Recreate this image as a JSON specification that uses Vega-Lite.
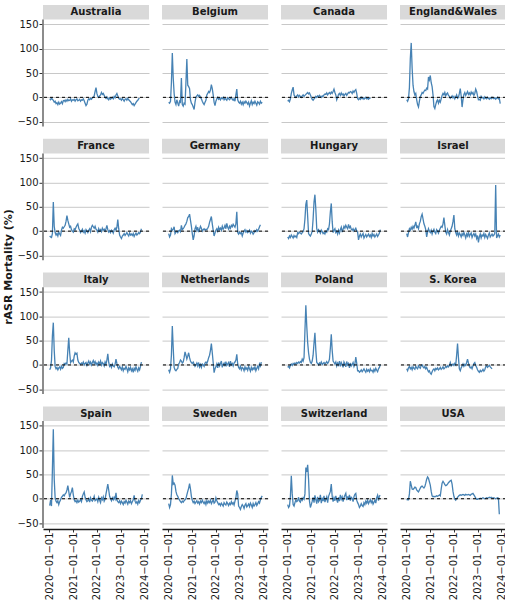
{
  "$schema": "https://vega.github.io/schema/vega-lite/v6.json",
  "background": "white",
  "padding": {"left": 2, "top": 5, "right": 0, "bottom": 0},
  "data": {
    "format": {"parse": {"d": "utc:'%Y-%m-%d'"}},
    "values": [
      {"d":"2020-01-05","Australia":-3,"Belgium":-10,"Canada":-8,"England&Wales":-5,"France":-10,"Germany":-5,"Hungary":-12,"Israel":-5,"Italy":-10,"Netherlands":-10,"Poland":-5,"S. Korea":-8,"Spain":-14,"Sweden":-10,"Switzerland":-12,"USA":-3},
      {"d":"2020-01-19","Australia":-5,"Belgium":-12,"Canada":-6,"England&Wales":-8,"France":-12,"Germany":-12,"Hungary":-15,"Israel":-12,"Italy":-6,"Netherlands":-15,"Poland":-3,"S. Korea":-12,"Spain":-3,"Sweden":-18,"Switzerland":-18,"USA":-1},
      {"d":"2020-02-02","Australia":-2,"Belgium":-8,"Canada":-9,"England&Wales":-3,"France":-13,"Germany":-8,"Hungary":-10,"Israel":-3,"Italy":10,"Netherlands":-8,"Poland":-6,"S. Korea":-6,"Spain":-15,"Sweden":-12,"Switzerland":-15,"USA":-2},
      {"d":"2020-02-16","Australia":-4,"Belgium":30,"Canada":-3,"England&Wales":20,"France":-5,"Germany":5,"Hungary":-13,"Israel":5,"Italy":60,"Netherlands":20,"Poland":0,"S. Korea":-3,"Spain":60,"Sweden":10,"Switzerland":5,"USA":10},
      {"d":"2020-03-01","Australia":-6,"Belgium":91,"Canada":8,"England&Wales":80,"France":60,"Germany":2,"Hungary":-8,"Israel":2,"Italy":87,"Netherlands":80,"Poland":2,"S. Korea":-8,"Spain":143,"Sweden":48,"Switzerland":47,"USA":36},
      {"d":"2020-03-15","Australia":-10,"Belgium":40,"Canada":15,"England&Wales":112,"France":10,"Germany":4,"Hungary":-11,"Israel":8,"Italy":30,"Netherlands":35,"Poland":-1,"S. Korea":-5,"Spain":40,"Sweden":30,"Switzerland":10,"USA":28},
      {"d":"2020-03-29","Australia":-8,"Belgium":8,"Canada":21,"England&Wales":60,"France":-3,"Germany":9,"Hungary":-14,"Israel":4,"Italy":-3,"Netherlands":-5,"Poland":3,"S. Korea":-10,"Spain":2,"Sweden":32,"Switzerland":-12,"USA":20},
      {"d":"2020-04-12","Australia":-13,"Belgium":-10,"Canada":5,"England&Wales":25,"France":-8,"Germany":-5,"Hungary":-9,"Israel":10,"Italy":-8,"Netherlands":-10,"Poland":1,"S. Korea":-4,"Spain":-5,"Sweden":28,"Switzerland":-15,"USA":19},
      {"d":"2020-04-26","Australia":-11,"Belgium":-15,"Canada":2,"England&Wales":12,"France":-5,"Germany":-2,"Hungary":-12,"Israel":6,"Italy":-5,"Netherlands":-12,"Poland":4,"S. Korea":-7,"Spain":-8,"Sweden":15,"Switzerland":-8,"USA":21},
      {"d":"2020-05-10","Australia":-15,"Belgium":-5,"Canada":0,"England&Wales":5,"France":-10,"Germany":0,"Hungary":-10,"Israel":12,"Italy":-10,"Netherlands":-9,"Poland":2,"S. Korea":-9,"Spain":-4,"Sweden":8,"Switzerland":-2,"USA":24},
      {"d":"2020-05-24","Australia":-10,"Belgium":-12,"Canada":3,"England&Wales":8,"France":-2,"Germany":-3,"Hungary":-13,"Israel":19,"Italy":-6,"Netherlands":-7,"Poland":5,"S. Korea":-3,"Spain":-12,"Sweden":5,"Switzerland":-6,"USA":23},
      {"d":"2020-06-07","Australia":-14,"Belgium":-18,"Canada":5,"England&Wales":-5,"France":-6,"Germany":1,"Hungary":-3,"Israel":8,"Italy":-4,"Netherlands":2,"Poland":3,"S. Korea":-6,"Spain":-6,"Sweden":0,"Switzerland":-4,"USA":18},
      {"d":"2020-06-21","Australia":-12,"Belgium":-8,"Canada":1,"England&Wales":-15,"France":-9,"Germany":2,"Hungary":-5,"Israel":10,"Italy":-9,"Netherlands":5,"Poland":6,"S. Korea":-8,"Spain":-2,"Sweden":-3,"Switzerland":3,"USA":16},
      {"d":"2020-07-05","Australia":-9,"Belgium":-10,"Canada":4,"England&Wales":-20,"France":2,"Germany":-1,"Hungary":-2,"Israel":5,"Italy":-3,"Netherlands":10,"Poland":4,"S. Korea":-2,"Spain":3,"Sweden":-6,"Switzerland":-5,"USA":14},
      {"d":"2020-07-19","Australia":-13,"Belgium":40,"Canada":2,"England&Wales":-8,"France":8,"Germany":12,"Hungary":-4,"Israel":15,"Italy":-7,"Netherlands":8,"Poland":7,"S. Korea":-5,"Spain":5,"Sweden":-8,"Switzerland":-7,"USA":18},
      {"d":"2020-08-02","Australia":-7,"Belgium":-15,"Canada":0,"England&Wales":2,"France":6,"Germany":3,"Hungary":-6,"Israel":20,"Italy":-5,"Netherlands":4,"Poland":5,"S. Korea":-7,"Spain":8,"Sweden":-5,"Switzerland":0,"USA":22},
      {"d":"2020-08-16","Australia":-6,"Belgium":-18,"Canada":3,"England&Wales":5,"France":9,"Germany":5,"Hungary":-3,"Israel":30,"Italy":3,"Netherlands":6,"Poland":12,"S. Korea":-1,"Spain":6,"Sweden":-7,"Switzerland":-3,"USA":25},
      {"d":"2020-08-30","Australia":-9,"Belgium":-12,"Canada":5,"England&Wales":10,"France":12,"Germany":8,"Hungary":-1,"Israel":35,"Italy":1,"Netherlands":15,"Poland":8,"S. Korea":0,"Spain":10,"Sweden":-4,"Switzerland":2,"USA":26},
      {"d":"2020-09-13","Australia":-5,"Belgium":-14,"Canada":2,"England&Wales":8,"France":20,"Germany":12,"Hungary":5,"Israel":25,"Italy":4,"Netherlands":27,"Poland":15,"S. Korea":-4,"Spain":12,"Sweden":-2,"Switzerland":-1,"USA":24},
      {"d":"2020-09-27","Australia":-8,"Belgium":30,"Canada":4,"England&Wales":12,"France":32,"Germany":15,"Hungary":25,"Israel":15,"Italy":2,"Netherlands":20,"Poland":70,"S. Korea":-6,"Spain":18,"Sweden":0,"Switzerland":10,"USA":22},
      {"d":"2020-10-11","Australia":-4,"Belgium":79,"Canada":6,"England&Wales":15,"France":22,"Germany":20,"Hungary":55,"Israel":10,"Italy":30,"Netherlands":12,"Poland":123,"S. Korea":-3,"Spain":27,"Sweden":8,"Switzerland":64,"USA":25},
      {"d":"2020-10-25","Australia":-7,"Belgium":25,"Canada":8,"England&Wales":14,"France":15,"Germany":28,"Hungary":64,"Israel":3,"Italy":56,"Netherlands":18,"Poland":80,"S. Korea":-8,"Spain":15,"Sweden":15,"Switzerland":55,"USA":32},
      {"d":"2020-11-08","Australia":-6,"Belgium":22,"Canada":10,"England&Wales":19,"France":8,"Germany":30,"Hungary":30,"Israel":-12,"Italy":25,"Netherlands":25,"Poland":46,"S. Korea":-5,"Spain":3,"Sweden":22,"Switzerland":70,"USA":40},
      {"d":"2020-11-22","Australia":-3,"Belgium":18,"Canada":7,"England&Wales":17,"France":10,"Germany":35,"Hungary":-5,"Israel":-2,"Italy":5,"Netherlands":15,"Poland":25,"S. Korea":-10,"Spain":10,"Sweden":31,"Switzerland":40,"USA":45},
      {"d":"2020-12-06","Australia":-8,"Belgium":-5,"Canada":9,"England&Wales":42,"France":3,"Germany":22,"Hungary":-8,"Israel":5,"Italy":8,"Netherlands":8,"Poland":12,"S. Korea":-14,"Spain":15,"Sweden":20,"Switzerland":-5,"USA":42},
      {"d":"2020-12-20","Australia":-5,"Belgium":-12,"Canada":5,"England&Wales":36,"France":0,"Germany":10,"Hungary":-10,"Israel":0,"Italy":10,"Netherlands":5,"Poland":5,"S. Korea":-12,"Spain":23,"Sweden":5,"Switzerland":-18,"USA":35},
      {"d":"2021-01-03","Australia":-6,"Belgium":-15,"Canada":0,"England&Wales":45,"France":-2,"Germany":-5,"Hungary":-6,"Israel":-3,"Italy":6,"Netherlands":3,"Poland":3,"S. Korea":-17,"Spain":8,"Sweden":-3,"Switzerland":-12,"USA":28},
      {"d":"2021-01-17","Australia":-4,"Belgium":-20,"Canada":-4,"England&Wales":30,"France":5,"Germany":-18,"Hungary":0,"Israel":2,"Italy":18,"Netherlands":6,"Poland":8,"S. Korea":-19,"Spain":-2,"Sweden":-8,"Switzerland":-5,"USA":15},
      {"d":"2021-01-31","Australia":-8,"Belgium":-25,"Canada":-6,"England&Wales":22,"France":3,"Germany":-10,"Hungary":25,"Israel":-6,"Italy":25,"Netherlands":2,"Poland":20,"S. Korea":-14,"Spain":-6,"Sweden":-5,"Switzerland":3,"USA":6},
      {"d":"2021-02-14","Australia":-5,"Belgium":-10,"Canada":-3,"England&Wales":5,"France":8,"Germany":5,"Hungary":60,"Israel":0,"Italy":22,"Netherlands":-3,"Poland":45,"S. Korea":-10,"Spain":-4,"Sweden":-10,"Switzerland":-8,"USA":4},
      {"d":"2021-02-28","Australia":-3,"Belgium":0,"Canada":-1,"England&Wales":-19,"France":12,"Germany":10,"Hungary":75,"Israel":4,"Italy":24,"Netherlands":0,"Poland":66,"S. Korea":-8,"Spain":-8,"Sweden":-7,"Switzerland":7,"USA":5},
      {"d":"2021-03-14","Australia":-7,"Belgium":3,"Canada":2,"England&Wales":-23,"France":15,"Germany":2,"Hungary":45,"Israel":-2,"Italy":10,"Netherlands":4,"Poland":30,"S. Korea":-12,"Spain":-3,"Sweden":-4,"Switzerland":-2,"USA":4},
      {"d":"2021-03-28","Australia":-6,"Belgium":5,"Canada":0,"England&Wales":-15,"France":6,"Germany":8,"Hungary":5,"Israel":-5,"Italy":5,"Netherlands":-2,"Poland":5,"S. Korea":-7,"Spain":-7,"Sweden":-9,"Switzerland":-10,"USA":5},
      {"d":"2021-04-11","Australia":-4,"Belgium":2,"Canada":3,"England&Wales":-8,"France":2,"Germany":-2,"Hungary":-2,"Israel":3,"Italy":3,"Netherlands":5,"Poland":3,"S. Korea":-9,"Spain":-5,"Sweden":-6,"Switzerland":4,"USA":6},
      {"d":"2021-04-25","Australia":-8,"Belgium":4,"Canada":1,"England&Wales":-5,"France":-3,"Germany":4,"Hungary":3,"Israel":0,"Italy":1,"Netherlands":-4,"Poland":0,"S. Korea":-6,"Spain":-2,"Sweden":-11,"Switzerland":-6,"USA":5},
      {"d":"2021-05-09","Australia":-5,"Belgium":0,"Canada":4,"England&Wales":-12,"France":0,"Germany":10,"Hungary":0,"Israel":-4,"Italy":4,"Netherlands":1,"Poland":4,"S. Korea":-10,"Spain":-6,"Sweden":-5,"Switzerland":-3,"USA":6},
      {"d":"2021-05-23","Australia":-6,"Belgium":-3,"Canada":2,"England&Wales":-6,"France":4,"Germany":6,"Hungary":-4,"Israel":2,"Italy":2,"Netherlands":-5,"Poland":2,"S. Korea":-8,"Spain":5,"Sweden":-8,"Switzerland":8,"USA":8},
      {"d":"2021-06-06","Australia":-3,"Belgium":-8,"Canada":0,"England&Wales":-10,"France":-2,"Germany":0,"Hungary":2,"Israel":6,"Italy":6,"Netherlands":2,"Poland":6,"S. Korea":-5,"Spain":10,"Sweden":-3,"Switzerland":-9,"USA":6},
      {"d":"2021-06-20","Australia":-7,"Belgium":-12,"Canada":3,"England&Wales":-3,"France":1,"Germany":3,"Hungary":-1,"Israel":10,"Italy":0,"Netherlands":0,"Poland":1,"S. Korea":-9,"Spain":14,"Sweden":-7,"Switzerland":2,"USA":20},
      {"d":"2021-07-04","Australia":-12,"Belgium":-15,"Canada":2,"England&Wales":4,"France":-4,"Germany":5,"Hungary":-5,"Israel":8,"Italy":3,"Netherlands":-3,"Poland":3,"S. Korea":-7,"Spain":3,"Sweden":-10,"Switzerland":-5,"USA":32},
      {"d":"2021-07-18","Australia":-17,"Belgium":-10,"Canada":5,"England&Wales":8,"France":3,"Germany":2,"Hungary":-3,"Israel":15,"Italy":5,"Netherlands":4,"Poland":5,"S. Korea":-4,"Spain":-2,"Sweden":-6,"Switzerland":6,"USA":36},
      {"d":"2021-08-01","Australia":-14,"Belgium":-6,"Canada":7,"England&Wales":5,"France":0,"Germany":4,"Hungary":-6,"Israel":28,"Italy":-1,"Netherlands":6,"Poland":2,"S. Korea":-8,"Spain":-6,"Sweden":-12,"Switzerland":-7,"USA":33},
      {"d":"2021-08-15","Australia":-6,"Belgium":5,"Canada":6,"England&Wales":10,"France":-3,"Germany":3,"Hungary":0,"Israel":12,"Italy":4,"Netherlands":3,"Poland":4,"S. Korea":-6,"Spain":-4,"Sweden":-4,"Switzerland":-1,"USA":29},
      {"d":"2021-08-29","Australia":-3,"Belgium":8,"Canada":9,"England&Wales":3,"France":2,"Germany":6,"Hungary":-2,"Israel":-2,"Italy":8,"Netherlands":8,"Poland":7,"S. Korea":-3,"Spain":0,"Sweden":-9,"Switzerland":4,"USA":27},
      {"d":"2021-09-12","Australia":-5,"Belgium":12,"Canada":5,"England&Wales":7,"France":5,"Germany":10,"Hungary":5,"Israel":-6,"Italy":2,"Netherlands":15,"Poland":3,"S. Korea":-5,"Spain":-7,"Sweden":-5,"Switzerland":-8,"USA":28},
      {"d":"2021-09-26","Australia":-2,"Belgium":10,"Canada":8,"England&Wales":9,"France":-1,"Germany":18,"Hungary":3,"Israel":3,"Italy":6,"Netherlands":20,"Poland":6,"S. Korea":-2,"Spain":2,"Sweden":-8,"Switzerland":5,"USA":30},
      {"d":"2021-10-10","Australia":-4,"Belgium":15,"Canada":10,"England&Wales":4,"France":8,"Germany":24,"Hungary":15,"Israel":-3,"Italy":0,"Netherlands":30,"Poland":12,"S. Korea":-4,"Spain":-3,"Sweden":-3,"Switzerland":10,"USA":33},
      {"d":"2021-10-24","Australia":-1,"Belgium":26,"Canada":7,"England&Wales":2,"France":12,"Germany":30,"Hungary":40,"Israel":-8,"Italy":5,"Netherlands":44,"Poland":35,"S. Korea":-1,"Spain":-5,"Sweden":-10,"Switzerland":15,"USA":35},
      {"d":"2021-11-07","Australia":0,"Belgium":18,"Canada":11,"England&Wales":-2,"France":9,"Germany":15,"Hungary":57,"Israel":0,"Italy":9,"Netherlands":25,"Poland":63,"S. Korea":5,"Spain":-1,"Sweden":-6,"Switzerland":30,"USA":37},
      {"d":"2021-11-21","Australia":3,"Belgium":5,"Canada":8,"England&Wales":0,"France":6,"Germany":2,"Hungary":20,"Israel":5,"Italy":3,"Netherlands":5,"Poland":30,"S. Korea":-2,"Spain":5,"Sweden":-2,"Switzerland":5,"USA":38},
      {"d":"2021-12-05","Australia":12,"Belgium":-10,"Canada":12,"England&Wales":3,"France":10,"Germany":-10,"Hungary":-3,"Israel":10,"Italy":7,"Netherlands":-16,"Poland":8,"S. Korea":0,"Spain":-4,"Sweden":-9,"Switzerland":-6,"USA":30},
      {"d":"2021-12-19","Australia":20,"Belgium":-17,"Canada":17,"England&Wales":-1,"France":4,"Germany":-4,"Hungary":2,"Israel":20,"Italy":1,"Netherlands":-8,"Poland":5,"S. Korea":2,"Spain":-2,"Sweden":-7,"Switzerland":2,"USA":15},
      {"d":"2022-01-02","Australia":8,"Belgium":-8,"Canada":10,"England&Wales":2,"France":2,"Germany":2,"Hungary":5,"Israel":33,"Italy":4,"Netherlands":-4,"Poland":2,"S. Korea":-1,"Spain":0,"Sweden":2,"Switzerland":-4,"USA":5},
      {"d":"2022-01-16","Australia":2,"Belgium":-3,"Canada":5,"England&Wales":-3,"France":-2,"Germany":5,"Hungary":-3,"Israel":5,"Italy":-1,"Netherlands":2,"Poland":6,"S. Korea":3,"Spain":-6,"Sweden":-4,"Switzerland":6,"USA":-1},
      {"d":"2022-01-30","Australia":0,"Belgium":0,"Canada":-5,"England&Wales":1,"France":5,"Germany":0,"Hungary":0,"Israel":-3,"Italy":6,"Netherlands":-6,"Poland":-2,"S. Korea":0,"Spain":3,"Sweden":-8,"Switzerland":-2,"USA":-3},
      {"d":"2022-02-13","Australia":3,"Belgium":-4,"Canada":0,"England&Wales":5,"France":0,"Germany":8,"Hungary":-6,"Israel":-8,"Italy":2,"Netherlands":5,"Poland":4,"S. Korea":20,"Spain":-3,"Sweden":-12,"Switzerland":-8,"USA":0},
      {"d":"2022-02-27","Australia":5,"Belgium":-2,"Canada":6,"England&Wales":-2,"France":3,"Germany":3,"Hungary":2,"Israel":-2,"Italy":8,"Netherlands":-2,"Poland":0,"S. Korea":44,"Spain":-8,"Sweden":-10,"Switzerland":3,"USA":3},
      {"d":"2022-03-13","Australia":10,"Belgium":-5,"Canada":8,"England&Wales":0,"France":-1,"Germany":6,"Hungary":-4,"Israel":-10,"Italy":0,"Netherlands":3,"Poland":8,"S. Korea":15,"Spain":2,"Sweden":-14,"Switzerland":-5,"USA":5},
      {"d":"2022-03-27","Australia":6,"Belgium":-1,"Canada":4,"England&Wales":8,"France":6,"Germany":2,"Hungary":3,"Israel":-4,"Italy":5,"Netherlands":8,"Poland":-3,"S. Korea":-8,"Spain":-2,"Sweden":-9,"Switzerland":8,"USA":7},
      {"d":"2022-04-10","Australia":8,"Belgium":-3,"Canada":9,"England&Wales":18,"France":2,"Germany":10,"Hungary":8,"Israel":-7,"Italy":3,"Netherlands":-5,"Poland":5,"S. Korea":-12,"Spain":4,"Sweden":-12,"Switzerland":-1,"USA":8},
      {"d":"2022-04-24","Australia":4,"Belgium":0,"Canada":5,"England&Wales":3,"France":4,"Germany":4,"Hungary":-2,"Israel":-12,"Italy":-2,"Netherlands":1,"Poland":1,"S. Korea":-6,"Spain":-5,"Sweden":-15,"Switzerland":4,"USA":7},
      {"d":"2022-05-08","Australia":0,"Belgium":-5,"Canada":7,"England&Wales":-20,"France":0,"Germany":7,"Hungary":4,"Israel":-5,"Italy":6,"Netherlands":4,"Poland":-5,"S. Korea":-2,"Spain":-1,"Sweden":-8,"Switzerland":-6,"USA":8},
      {"d":"2022-05-22","Australia":-2,"Belgium":-2,"Canada":3,"England&Wales":-5,"France":5,"Germany":12,"Hungary":10,"Israel":-9,"Italy":1,"Netherlands":-3,"Poland":6,"S. Korea":2,"Spain":10,"Sweden":-11,"Switzerland":2,"USA":9},
      {"d":"2022-06-05","Australia":1,"Belgium":-4,"Canada":6,"England&Wales":6,"France":12,"Germany":5,"Hungary":6,"Israel":-3,"Italy":10,"Netherlands":7,"Poland":2,"S. Korea":-3,"Spain":20,"Sweden":-13,"Switzerland":7,"USA":8},
      {"d":"2022-06-19","Australia":-3,"Belgium":-6,"Canada":8,"England&Wales":10,"France":3,"Germany":16,"Hungary":12,"Israel":-8,"Italy":23,"Netherlands":-1,"Poland":-4,"S. Korea":1,"Spain":30,"Sweden":-7,"Switzerland":11,"USA":7},
      {"d":"2022-07-03","Australia":-5,"Belgium":-1,"Canada":4,"England&Wales":4,"France":-2,"Germany":8,"Hungary":8,"Israel":-14,"Italy":5,"Netherlands":2,"Poland":7,"S. Korea":-1,"Spain":18,"Sweden":-10,"Switzerland":-3,"USA":9},
      {"d":"2022-07-17","Australia":-1,"Belgium":-3,"Canada":7,"England&Wales":8,"France":1,"Germany":4,"Hungary":5,"Israel":-6,"Italy":-3,"Netherlands":5,"Poland":0,"S. Korea":5,"Spain":5,"Sweden":-14,"Switzerland":5,"USA":8},
      {"d":"2022-07-31","Australia":-4,"Belgium":-5,"Canada":10,"England&Wales":12,"France":-3,"Germany":10,"Hungary":14,"Israel":-10,"Italy":0,"Netherlands":-4,"Poland":3,"S. Korea":12,"Spain":0,"Sweden":-9,"Switzerland":-2,"USA":8},
      {"d":"2022-08-14","Australia":-2,"Belgium":-2,"Canada":9,"England&Wales":6,"France":2,"Germany":6,"Hungary":7,"Israel":-2,"Italy":-5,"Netherlands":8,"Poland":-6,"S. Korea":4,"Spain":-4,"Sweden":-12,"Switzerland":8,"USA":9},
      {"d":"2022-08-28","Australia":0,"Belgium":0,"Canada":12,"England&Wales":9,"France":0,"Germany":12,"Hungary":10,"Israel":-11,"Italy":2,"Netherlands":0,"Poland":4,"S. Korea":-3,"Spain":2,"Sweden":-6,"Switzerland":-4,"USA":8},
      {"d":"2022-09-11","Australia":-3,"Belgium":-4,"Canada":11,"England&Wales":5,"France":-4,"Germany":9,"Hungary":4,"Israel":-7,"Italy":-2,"Netherlands":3,"Poland":-2,"S. Korea":-6,"Spain":-2,"Sweden":-11,"Switzerland":3,"USA":7},
      {"d":"2022-09-25","Australia":2,"Belgium":-6,"Canada":8,"England&Wales":11,"France":3,"Germany":14,"Hungary":2,"Israel":-4,"Italy":-4,"Netherlands":-2,"Poland":1,"S. Korea":-4,"Spain":3,"Sweden":-8,"Switzerland":1,"USA":9},
      {"d":"2022-10-09","Australia":-1,"Belgium":-3,"Canada":13,"England&Wales":7,"France":6,"Germany":11,"Hungary":5,"Israel":-13,"Italy":1,"Netherlands":4,"Poland":5,"S. Korea":-8,"Spain":-1,"Sweden":-13,"Switzerland":-6,"USA":10},
      {"d":"2022-10-23","Australia":5,"Belgium":-8,"Canada":10,"England&Wales":10,"France":2,"Germany":8,"Hungary":0,"Israel":-8,"Italy":12,"Netherlands":6,"Poland":-3,"S. Korea":-2,"Spain":12,"Sweden":-5,"Switzerland":4,"USA":11},
      {"d":"2022-11-06","Australia":8,"Belgium":5,"Canada":14,"England&Wales":4,"France":8,"Germany":15,"Hungary":3,"Israel":-5,"Italy":3,"Netherlands":10,"Poland":2,"S. Korea":3,"Spain":-3,"Sweden":2,"Switzerland":9,"USA":8},
      {"d":"2022-11-20","Australia":3,"Belgium":17,"Canada":16,"England&Wales":8,"France":24,"Germany":40,"Hungary":6,"Israel":-10,"Italy":-5,"Netherlands":22,"Poland":16,"S. Korea":5,"Spain":-6,"Sweden":17,"Switzerland":11,"USA":5},
      {"d":"2022-12-04","Australia":-2,"Belgium":-5,"Canada":8,"England&Wales":17,"France":5,"Germany":-3,"Hungary":1,"Israel":-6,"Italy":-8,"Netherlands":2,"Poland":4,"S. Korea":-1,"Spain":-8,"Sweden":10,"Switzerland":-3,"USA":1},
      {"d":"2022-12-18","Australia":-4,"Belgium":-10,"Canada":-3,"England&Wales":12,"France":-8,"Germany":-6,"Hungary":-2,"Israel":-15,"Italy":-3,"Netherlands":-5,"Poland":-12,"S. Korea":-5,"Spain":-4,"Sweden":-15,"Switzerland":-8,"USA":-1},
      {"d":"2023-01-01","Australia":-3,"Belgium":-12,"Canada":-5,"England&Wales":3,"France":-12,"Germany":-2,"Hungary":-18,"Israel":-9,"Italy":-6,"Netherlands":-8,"Poland":-12,"S. Korea":-10,"Spain":-10,"Sweden":-18,"Switzerland":-12,"USA":-1},
      {"d":"2023-01-15","Australia":-6,"Belgium":-8,"Canada":-2,"England&Wales":-5,"France":-15,"Germany":-5,"Hungary":-10,"Israel":-23,"Italy":-10,"Netherlands":-3,"Poland":-15,"S. Korea":-13,"Spain":-5,"Sweden":-22,"Switzerland":-18,"USA":0},
      {"d":"2023-01-29","Australia":-2,"Belgium":-14,"Canada":-4,"England&Wales":-4,"France":-10,"Germany":-3,"Hungary":-6,"Israel":-12,"Italy":-4,"Netherlands":-10,"Poland":-13,"S. Korea":-15,"Spain":-8,"Sweden":-16,"Switzerland":-15,"USA":0},
      {"d":"2023-02-12","Australia":-5,"Belgium":-10,"Canada":0,"England&Wales":-6,"France":-8,"Germany":-10,"Hungary":-12,"Israel":-6,"Italy":-12,"Netherlands":-5,"Poland":-10,"S. Korea":-11,"Spain":-12,"Sweden":-12,"Switzerland":-10,"USA":1},
      {"d":"2023-02-26","Australia":-8,"Belgium":-15,"Canada":-3,"England&Wales":2,"France":-5,"Germany":-4,"Hungary":-8,"Israel":-14,"Italy":-7,"Netherlands":-7,"Poland":-14,"S. Korea":-14,"Spain":-6,"Sweden":-15,"Switzerland":-14,"USA":0},
      {"d":"2023-03-12","Australia":-4,"Belgium":-9,"Canada":-1,"England&Wales":-1,"France":-9,"Germany":0,"Hungary":-5,"Israel":-8,"Italy":-9,"Netherlands":-12,"Poland":-11,"S. Korea":-12,"Spain":-9,"Sweden":-20,"Switzerland":-16,"USA":1},
      {"d":"2023-03-26","Australia":-3,"Belgium":-12,"Canada":-4,"England&Wales":0,"France":-6,"Germany":3,"Hungary":-14,"Israel":-10,"Italy":-3,"Netherlands":-4,"Poland":-8,"S. Korea":-9,"Spain":-3,"Sweden":-13,"Switzerland":-8,"USA":2},
      {"d":"2023-04-09","Australia":-6,"Belgium":-8,"Canada":-2,"England&Wales":-3,"France":-3,"Germany":-2,"Hungary":-10,"Israel":-5,"Italy":-8,"Netherlands":-9,"Poland":-12,"S. Korea":-13,"Spain":-7,"Sweden":-10,"Switzerland":-12,"USA":1},
      {"d":"2023-04-23","Australia":-2,"Belgium":-11,"Canada":0,"England&Wales":1,"France":-7,"Germany":1,"Hungary":-7,"Israel":-13,"Italy":-14,"Netherlands":-6,"Poland":-15,"S. Korea":-10,"Spain":-11,"Sweden":-17,"Switzerland":-5,"USA":0},
      {"d":"2023-05-07","Australia":-5,"Belgium":-14,"Canada":-3,"England&Wales":-2,"France":-10,"Germany":-3,"Hungary":-12,"Israel":-7,"Italy":-6,"Netherlands":-11,"Poland":-9,"S. Korea":-4,"Spain":-5,"Sweden":-14,"Switzerland":-9,"USA":1},
      {"d":"2023-05-21","Australia":-7,"Belgium":-10,"Canada":-2,"England&Wales":-3,"France":-4,"Germany":-1,"Hungary":-9,"Israel":-11,"Italy":-10,"Netherlands":-3,"Poland":-13,"S. Korea":-2,"Spain":-8,"Sweden":-11,"Switzerland":-3,"USA":2},
      {"d":"2023-06-04","Australia":-9,"Belgium":-18,"Canada":-4,"England&Wales":0,"France":-8,"Germany":2,"Hungary":-6,"Israel":-15,"Italy":-5,"Netherlands":-8,"Poland":-10,"S. Korea":-5,"Spain":-4,"Sweden":-16,"Switzerland":-10,"USA":1},
      {"d":"2023-06-18","Australia":-12,"Belgium":-12,"Canada":-1,"England&Wales":-2,"France":-6,"Germany":-4,"Hungary":-11,"Israel":-8,"Italy":-12,"Netherlands":-13,"Poland":-14,"S. Korea":-3,"Spain":-10,"Sweden":-9,"Switzerland":-6,"USA":2},
      {"d":"2023-07-02","Australia":-15,"Belgium":-7,"Canada":-3,"England&Wales":-4,"France":-9,"Germany":0,"Hungary":-8,"Israel":-4,"Italy":-8,"Netherlands":-5,"Poland":-8,"S. Korea":-1,"Spain":-6,"Sweden":-13,"Switzerland":-2,"USA":3},
      {"d":"2023-07-16","Australia":-13,"Belgium":-15,"England&Wales":-1,"France":-5,"Germany":-2,"Hungary":-13,"Israel":-12,"Italy":-15,"Netherlands":-10,"Poland":-12,"S. Korea":-4,"Spain":-2,"Sweden":-18,"Switzerland":-8,"USA":2},
      {"d":"2023-07-30","Australia":-17,"Belgium":-10,"England&Wales":-3,"France":-11,"Germany":-6,"Hungary":-5,"Israel":-9,"Italy":-7,"Netherlands":-6,"Poland":-11,"S. Korea":-6,"Spain":7,"Sweden":-10,"Switzerland":-4,"USA":3},
      {"d":"2023-08-13","Australia":-14,"Belgium":-13,"England&Wales":0,"France":-7,"Germany":-3,"Hungary":-10,"Israel":-6,"Italy":-11,"Netherlands":-9,"Poland":-15,"S. Korea":-8,"Spain":-5,"Sweden":-15,"Switzerland":-11,"USA":2},
      {"d":"2023-08-27","Australia":-11,"Belgium":-8,"England&Wales":-2,"France":-4,"Germany":1,"Hungary":-7,"Israel":-10,"Italy":-4,"Netherlands":-4,"Poland":-9,"Spain":-9,"Sweden":-12,"Switzerland":-7,"USA":1},
      {"d":"2023-09-10","Australia":-8,"Belgium":-12,"England&Wales":-3,"France":-8,"Germany":-1,"Hungary":-12,"Israel":-8,"Italy":-9,"Netherlands":-12,"Poland":-13,"Spain":-6,"Sweden":-8,"Switzerland":-3,"USA":2},
      {"d":"2023-09-24","Australia":-6,"Belgium":-16,"England&Wales":-1,"France":-6,"Germany":3,"Hungary":-9,"Israel":-5,"Italy":-13,"Netherlands":-7,"Poland":-7,"Spain":-11,"Sweden":-14,"Switzerland":-9,"USA":1},
      {"d":"2023-10-08","Australia":-3,"Belgium":-9,"England&Wales":-4,"France":-3,"Germany":0,"Hungary":-6,"Israel":95,"Italy":-6,"Netherlands":-3,"Poland":-11,"Spain":-4,"Sweden":-10,"Switzerland":2,"USA":0},
      {"d":"2023-10-22","Australia":-2,"Belgium":-11,"England&Wales":-2,"France":-5,"Germany":4,"Hungary":-11,"Israel":-14,"Italy":-10,"Netherlands":-8,"Poland":-14,"Spain":-8,"Sweden":-6,"Switzerland":7,"USA":1},
      {"d":"2023-11-05","Belgium":-14,"England&Wales":0,"France":-2,"Germany":9,"Hungary":-8,"Israel":-10,"Italy":-3,"Netherlands":2,"Poland":-8,"Spain":-3,"Sweden":-9,"Switzerland":-4,"USA":2},
      {"d":"2023-11-19","Belgium":-8,"England&Wales":-3,"France":5,"Germany":13,"Hungary":-4,"Israel":-6,"Italy":6,"Netherlands":-2,"Poland":-5,"Spain":0,"Sweden":-2,"Switzerland":6,"USA":1},
      {"d":"2023-12-03","Belgium":-12,"England&Wales":-2,"Hungary":3,"Israel":-12,"Netherlands":6,"Poland":1,"Spain":9,"Sweden":3,"Switzerland":7,"USA":-32},
      {"d":"2023-12-17","Belgium":-10,"England&Wales":-13,"Israel":-8,"Sweden":6}
    ]
  },
  "transform": [
    {"fold": ["Australia","Belgium","Canada","England&Wales","France","Germany","Hungary","Israel","Italy","Netherlands","Poland","S\\. Korea","Spain","Sweden","Switzerland","USA"], "as": ["country","value"]},
    {"filter": "isValid(datum.value)"},
    {"calculate": "indexof(['Australia','Belgium','Canada','England&Wales','France','Germany','Hungary','Israel','Italy','Netherlands','Poland','S. Korea','Spain','Sweden','Switzerland','USA'], datum.country)", "as": "idx"},
    {"calculate": "floor(datum.idx / 4)", "as": "r"},
    {"calculate": "datum.idx % 4", "as": "c"}
  ],
  "facet": {
    "row": {"field": "r", "type": "ordinal", "header": {"labels": false, "labelPadding": 0, "title": "rASR Mortality (%)", "titleFont": "DejaVu Sans", "titleFontSize": 11, "titleFontWeight": "bold", "titleColor": "#1a1a1a", "titlePadding": -8}},
    "column": {"field": "c", "type": "ordinal", "header": {"labels": false, "labelPadding": 0, "title": null}}
  },
  "spacing": {"row": 10.8, "column": 11},
  "spec": {
    "width": 106,
    "height": 121.5,
    "layer": [
      {
        "transform": [{"aggregate": [{"op": "count", "as": "n"}], "groupby": ["country", "r", "c"]}],
        "layer": [
          {
            "mark": {"type": "rect", "color": "#d9d9d9"},
            "encoding": {
              "x": {"datum": {"year": 2019, "month": 9, "date": 24, "utc": true}, "type": "temporal", "scale": {"type": "utc"}, "title": null},
              "x2": {"datum": {"year": 2024, "month": 3, "date": 15, "utc": true}},
              "y": {"datum": 160, "type": "quantitative", "scale": {"domain": [-60, 190], "nice": false, "zero": false}, "title": null},
              "y2": {"datum": 190}
            }
          },
          {
            "mark": {"type": "text", "font": "DejaVu Sans", "fontSize": 10, "fontWeight": "bold", "color": "#1a1a1a", "baseline": "middle", "align": "center"},
            "encoding": {
              "x": {"datum": {"year": 2021, "month": 12, "date": 19, "utc": true}, "type": "temporal", "scale": {"type": "utc"}, "title": null},
              "y": {"datum": 175, "type": "quantitative", "title": null},
              "text": {"field": "country", "type": "nominal"}
            }
          },
          {
            "transform": [{"filter": "datum.c == 0"}],
            "mark": {"type": "rule", "color": "#666666", "strokeWidth": 1.5},
            "encoding": {
              "x": {"datum": {"year": 2019, "month": 9, "date": 24, "utc": true}, "type": "temporal", "scale": {"type": "utc"}, "title": null},
              "y": {"datum": -60, "type": "quantitative", "title": null},
              "y2": {"datum": 160}
            }
          }
        ]
      },
      {
        "mark": {"type": "line", "color": "#4682b4", "strokeWidth": 1.3},
        "encoding": {
          "x": {
            "field": "d", "type": "temporal", "title": null,
            "scale": {"type": "utc", "domain": [{"year": 2019, "month": 9, "date": 24, "utc": true}, {"year": 2024, "month": 3, "date": 15, "utc": true}]},
            "axis": {
              "values": [{"year": 2020, "month": 1, "date": 1, "utc": true}, {"year": 2021, "month": 1, "date": 1, "utc": true}, {"year": 2022, "month": 1, "date": 1, "utc": true}, {"year": 2023, "month": 1, "date": 1, "utc": true}, {"year": 2024, "month": 1, "date": 1, "utc": true}],
              "tickCount": 12,
              "format": "%Y−%m−%d", "labelAngle": 270, "grid": false, "labelOverlap": false, "labelFlush": false, "labelPadding": 0
            }
          },
          "y": {
            "field": "value", "type": "quantitative", "title": null,
            "scale": {"domain": [-60, 190], "nice": false, "zero": false},
            "axis": {"values": [-50, 0, 50, 100, 150], "tickCount": 12, "grid": true, "labelOverlap": false, "labelFlush": false, "labelPadding": 1}
          }
        }
      },
      {
        "transform": [{"aggregate": [{"op": "count", "as": "n"}], "groupby": ["country", "r", "c"]}],
        "mark": {"type": "rule", "color": "#000000", "strokeDash": [3, 3], "strokeWidth": 1},
        "encoding": {
          "y": {"datum": 0, "type": "quantitative", "title": null}
        }
      }
    ]
  },
  "config": {
    "font": "DejaVu Sans",
    "view": {"stroke": null},
    "axis": {"labelFont": "DejaVu Sans", "labelFontSize": 10, "labelColor": "#1a1a1a", "tickColor": "#333333", "tickSize": 3, "labelOverlap": false, "labelFlush": false, "minExtent": 0},
    "axisY": {"gridColor": "#c8c8c8", "gridWidth": 1, "domain": false},
    "axisX": {"domainColor": "#1a1a1a", "domainWidth": 1.5}
  }
}
